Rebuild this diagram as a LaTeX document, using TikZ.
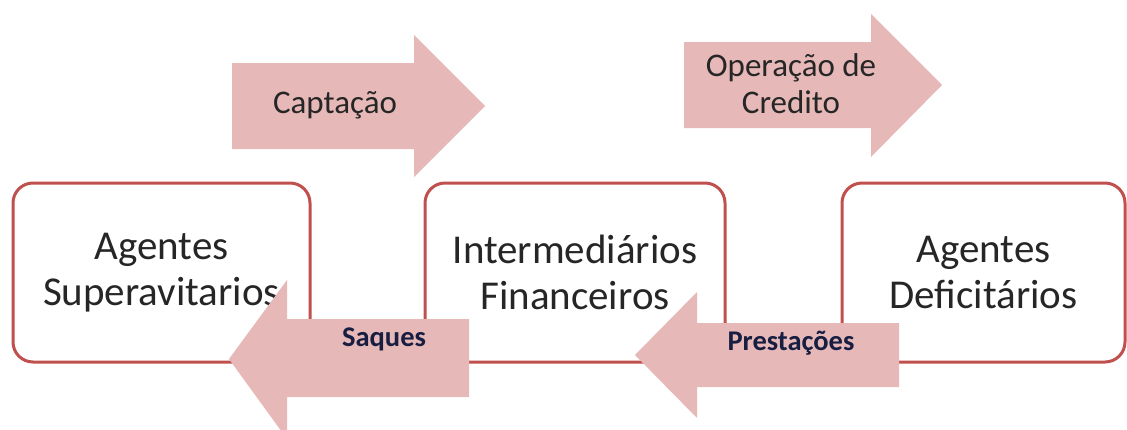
\documentclass[tikz,border=0pt]{standalone}
\usepackage{fontspec}
\setmainfont{Carlito}
\usepackage{xcolor}
\usepackage{tikz}
\definecolor{boxred}{RGB}{192,80,77}
\definecolor{arrowpink}{RGB}{230,184,183}
\definecolor{labelnavy}{RGB}{24,30,66}

\begin{document}
\begin{tikzpicture}[x=1pt,y=-1pt,
  agent/.style={rectangle,draw=boxred,line width=3pt,rounded corners=20pt,fill=white,
    minimum height=179pt,inner sep=0pt,align=center,text=black!85,
    font=\fontsize{41}{46}\selectfont},
  flow/.style={fill=arrowpink},
  flowlabel/.style={inner sep=0pt,align=center,text=black!85,font=\fontsize{33}{37}\selectfont},
  backlabel/.style={inner sep=0pt,text=labelnavy,font=\bfseries\fontsize{28.5}{32}\selectfont}]
  \clip (0,0) rectangle (1127,429);
  % agents and intermediaries
  \node[agent,minimum width=297pt] (sup) at (161.5,272.5) {Agentes\\Superavitarios};
  \node[agent,minimum width=300pt] (inter) at (575,272.5) {Intermediários\\Financeiros};
  \node[agent,minimum width=283pt] (def) at (983.5,272.5) {Agentes\\Deficitários};
  % upper arrows
  \fill[flow] (232,63) -- (414,63) -- (414,35) -- (485,106) -- (414,177) -- (414,149) -- (232,149) -- cycle;
  \node[flowlabel] (capt) at (335,105) {Captação};
  \fill[flow] (684,42) -- (871,42) -- (871,14) -- (942,85) -- (871,157) -- (871,128) -- (684,128) -- cycle;
  \node[flowlabel] (oper) at (791,84) {Operação de\\Credito};
  % lower arrows
  \fill[flow] (469,319) -- (287,319) -- (287,280) -- (229,359) -- (287,439) -- (287,397) -- (469,397) -- cycle;
  \node[backlabel] (saq) at (384,339) {Saques};
  \fill[flow] (899,323) -- (697,323) -- (697,292) -- (635,355) -- (697,418) -- (697,387) -- (899,387) -- cycle;
  \node[backlabel] (prest) at (791,343) {Prestações};
\end{tikzpicture}
\end{document}
